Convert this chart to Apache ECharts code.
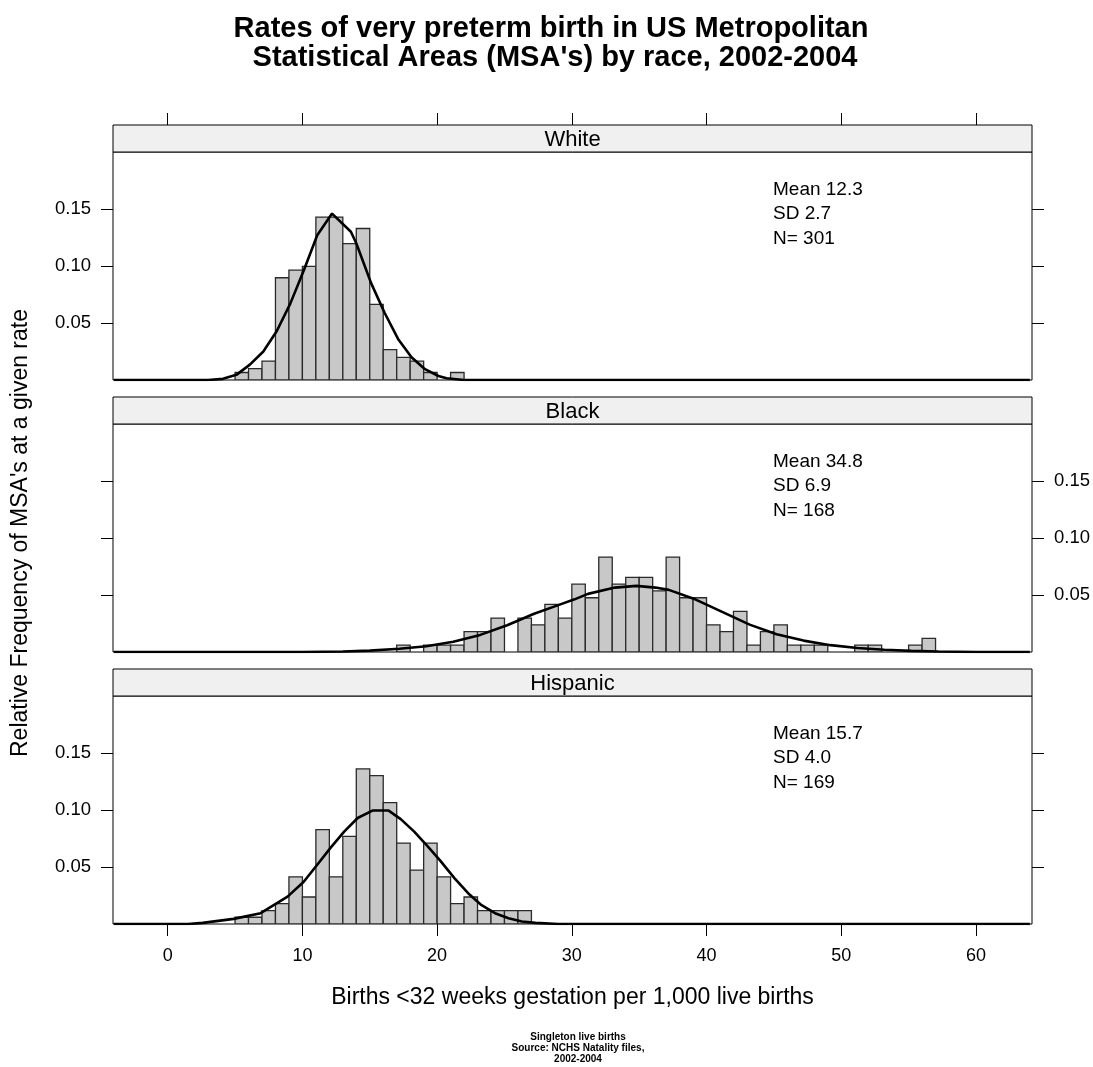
<!DOCTYPE html>
<html>
<head>
<meta charset="utf-8">
<script src="https://cdn.jsdelivr.net/npm/echarts@6/dist/echarts.min.js"></script>
<style>html,body{margin:0;padding:0;background:#fff}#c{width:1093px;height:1067px}</style>
</head>
<body>
<div id="c"></div>
<script>
// ---------------- data ----------------
const panelNames = ['White', 'Black', 'Hispanic'];
const panelStats = [
  'Mean 12.3\nSD 2.7\nN= 301',
  'Mean 34.8\nSD 6.9\nN= 168',
  'Mean 15.7\nSD 4.0\nN= 169'
];
const binWidth = 1;

const whiteBinStart = [5,6,7,8,9,10,11,12,13,14,15,16,17,18,19,21];
const whiteFreq = [0.0066,0.0100,0.0166,0.0897,0.0963,0.0997,0.1429,0.1429,0.1196,0.1329,0.0664,0.0266,0.0199,0.0166,0.0066,0.0066];

const blackBinStart = [17,19,20,21,22,23,24,26,27,28,29,30,31,32,33,34,35,36,37,38,39,40,41,42,43,44,45,46,47,48,51,52,55,56];
const blackFreq = [0.0060,0.0060,0.0060,0.0060,0.0179,0.0179,0.0298,0.0298,0.0238,0.0417,0.0298,0.0595,0.0476,0.0833,0.0595,0.0655,0.0655,0.0536,0.0833,0.0476,0.0476,0.0238,0.0179,0.0357,0.0060,0.0179,0.0238,0.0060,0.0060,0.0060,0.0060,0.0060,0.0060,0.0119];

const hispBinStart = [5,6,7,8,9,10,11,12,13,14,15,16,17,18,19,20,21,22,23,24,25,26];
const hispFreq = [0.0059,0.0059,0.0118,0.0178,0.0414,0.0237,0.0828,0.0414,0.0769,0.1361,0.1302,0.1065,0.0710,0.0473,0.0710,0.0414,0.0178,0.0237,0.0118,0.0118,0.0118,0.0118];

const whiteCurveX = [-4, 3.0, 4.1, 5.1, 6.1, 7.1, 8.1, 9.1, 10.1, 11.1, 12.2, 13.6, 14.0, 15.1, 16.1, 17.1, 18.1, 19.1, 20.1, 20.7, 22.0, 64];
const whiteCurveY = [0, 0, 0.001, 0.0045, 0.0135, 0.025, 0.043, 0.067, 0.096, 0.127, 0.146, 0.130, 0.120, 0.085, 0.059, 0.036, 0.020, 0.0095, 0.0035, 0.0015, 0, 0];

const blackCurveX = [-4, 10, 13, 15, 17.2, 19.2, 21.2, 23.2, 25.2, 27.2, 29.2, 30.2, 31.2, 33.2, 34.8, 36.2, 37.2, 39.2, 41.2, 43.2, 45.2, 47.2, 49.2, 51.2, 53.2, 55.2, 57.2, 60, 64];
const blackCurveY = [0, 0, 0.0005, 0.0012, 0.0028, 0.0050, 0.0090, 0.0150, 0.0235, 0.0335, 0.0420, 0.0462, 0.0510, 0.0565, 0.0580, 0.0565, 0.0545, 0.0460, 0.0350, 0.0240, 0.0155, 0.0100, 0.0060, 0.0035, 0.0020, 0.0010, 0.0004, 0, 0];

const hispCurveX = [-4, 1.5, 2.6, 4.9, 6.9, 8.9, 10.1, 11.1, 12.1, 13.1, 14.1, 15.2, 16.4, 17.3, 18.3, 19.3, 20.2, 21.3, 22.3, 23.3, 24.3, 25.3, 26.3, 27.3, 29, 64];
const hispCurveY = [0, 0, 0.001, 0.0045, 0.0095, 0.024, 0.037, 0.052, 0.067, 0.081, 0.093, 0.0995, 0.0995, 0.092, 0.081, 0.068, 0.056, 0.040, 0.027, 0.0165, 0.0095, 0.005, 0.0022, 0.001, 0, 0];

const xTickValues = [0, 10, 20, 30, 40, 50, 60];
const yTickValues = [0.05, 0.10, 0.15];
const xRange = [-4.06, 64.16];
const yRange = [0, 0.2];

const titleText = "Rates of very preterm birth in US Metropolitan\n Statistical Areas (MSA's) by race, 2002-2004";
const xTitle = 'Births <32 weeks gestation per 1,000 live births';
const yTitle = "Relative Frequency of MSA's at a given rate";
const caption = 'Singleton live births\nSource: NCHS Natality files,\n2002-2004';

// ---------------- layout ----------------
const FONT = '"Liberation Sans", Arial, Helvetica, sans-serif';
const LEFT = 113, WIDTH = 919, GH = 228, STRIP = 27;
const gridTops = [152, 424, 696];
const bins = [[whiteBinStart, whiteFreq], [blackBinStart, blackFreq], [hispBinStart, hispFreq]];
const curves = [[whiteCurveX, whiteCurveY], [blackCurveX, blackCurveY], [hispCurveX, hispCurveY]];

const grid = gridTops.map(t => ({
  left: LEFT, top: t, width: WIDTH, height: GH,
  show: true, borderColor: '#000', borderWidth: 1, backgroundColor: '#fff',
  containLabel: false, outerBoundsMode: 'none'
}));

const tickStyle = { color: '#000', width: 1 };
const xAxis = [0, 1, 2].map(i => ({
  type: 'value', gridIndex: i, min: xRange[0], max: xRange[1],
  position: i === 0 ? 'top' : 'bottom',
  offset: i === 0 ? STRIP : 0,
  axisLine: { show: false, onZero: false },
  splitLine: { show: false },
  axisTick: { show: i !== 1, length: 12, lineStyle: tickStyle, customValues: xTickValues },
  axisLabel: {
    show: i === 2, margin: 23, customValues: xTickValues,
    fontFamily: FONT, fontSize: 18, color: '#000'
  }
}));

const yAxis = [];
[0, 1, 2].forEach(i => {
  ['left', 'right'].forEach(side => {
    const labelled = (i === 1) ? side === 'right' : side === 'left';
    yAxis.push({
      type: 'value', gridIndex: i, min: yRange[0], max: yRange[1], position: side,
      axisLine: { show: false, onZero: false }, splitLine: { show: false },
      axisTick: { show: true, length: 12, lineStyle: tickStyle, customValues: yTickValues },
      axisLabel: {
        show: labelled, margin: 22, customValues: yTickValues,
        formatter: v => v.toFixed(2), fontFamily: FONT, fontSize: 18.5, color: '#000'
      }
    });
  });
});

const series = [];
[0, 1, 2].forEach(i => {
  const [starts, freqs] = bins[i];
  series.push({
    type: 'custom', xAxisIndex: i, yAxisIndex: 2 * i, clip: true, z: 2,
    data: starts.map((s, k) => [s, s + binWidth, freqs[k]]),
    encode: { x: [0, 1], y: 2 },
    renderItem: (params, api) => {
      const p0 = api.coord([api.value(0), api.value(2)]);
      const p1 = api.coord([api.value(1), 0]);
      return {
        type: 'rect',
        shape: { x: p0[0], y: p0[1], width: p1[0] - p0[0], height: p1[1] - p0[1] },
        style: { fill: '#C8C8C8', stroke: '#2a2a2a', lineWidth: 1.3 }
      };
    }
  });
  const [cx, cy] = curves[i];
  series.push({
    type: 'line', xAxisIndex: i, yAxisIndex: 2 * i, z: 3, clip: true,
    showSymbol: false, symbol: 'none', smooth: false, silent: true,
    data: cx.map((v, k) => [v, cy[k]]),
    lineStyle: { color: '#000', width: 2.6 }
  });
});

const graphic = [];
gridTops.forEach((t, i) => {
  graphic.push({
    type: 'rect', z: 10,
    shape: { x: LEFT, y: t - STRIP, width: WIDTH, height: STRIP },
    style: { fill: '#F0F0F0', stroke: '#000', lineWidth: 1 }
  });
  graphic.push({
    type: 'text', z: 11, x: LEFT + WIDTH / 2, y: t - STRIP / 2 + 1,
    style: { text: panelNames[i], font: '22px ' + FONT, fill: '#000',
      textAlign: 'center', textVerticalAlign: 'middle', align: 'center', verticalAlign: 'middle' }
  });
  graphic.push({
    type: 'text', z: 11, x: 773, y: t + 25.5,
    style: { text: panelStats[i], font: '19px ' + FONT, fill: '#000', lineHeight: 24.5,
      textAlign: 'left', textVerticalAlign: 'top', align: 'left', verticalAlign: 'top' }
  });
});
graphic.push({
  type: 'text', z: 11, x: 551, y: 14,
  style: { text: titleText, font: 'bold 29px ' + FONT, fill: '#000', lineHeight: 29,
    textAlign: 'center', textVerticalAlign: 'top', align: 'center', verticalAlign: 'top' }
});
graphic.push({
  type: 'text', z: 11, x: 572.5, y: 998,
  style: { text: xTitle, font: '23px ' + FONT, fill: '#000',
    textAlign: 'center', textVerticalAlign: 'middle', align: 'center', verticalAlign: 'middle' }
});
graphic.push({
  type: 'text', z: 11, x: 21, y: 533, rotation: Math.PI / 2,
  style: { text: yTitle, font: '23px ' + FONT, fill: '#000',
    textAlign: 'center', textVerticalAlign: 'middle', align: 'center', verticalAlign: 'middle' }
});
graphic.push({
  type: 'text', z: 11, x: 578, y: 1031.5,
  style: { text: caption, font: 'bold 10px ' + FONT, fill: '#000', lineHeight: 11,
    textAlign: 'center', textVerticalAlign: 'top', align: 'center', verticalAlign: 'top' }
});

const chart = echarts.init(document.getElementById('c'), null, { renderer: 'canvas' });
chart.setOption({
  animation: false,
  backgroundColor: '#fff',
  grid, xAxis, yAxis, series, graphic
});
</script>
</body>
</html>
